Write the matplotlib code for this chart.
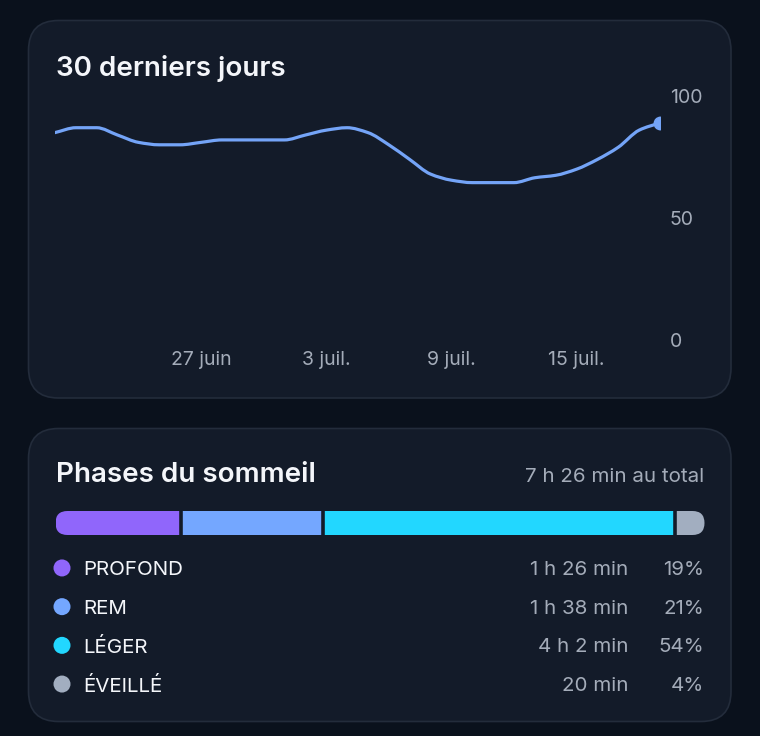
import numpy as np
import matplotlib
matplotlib.use("Agg")
import matplotlib.pyplot as plt
from matplotlib.patches import FancyBboxPatch
from matplotlib.path import Path
from matplotlib.patches import PathPatch
from matplotlib.transforms import blended_transform_factory

plt.rcParams['font.family'] = ['Inter', 'DejaVu Sans']

# --- data ---
days = list(range(30))  # 20 juin .. 19 juil
score = [85, 87, 87, 84, 81, 80, 80, 81, 82, 82, 82, 82, 84, 86, 87, 85,
         80, 74, 68, 65.5, 64.5, 64.5, 64.5, 66.5, 67.5, 70, 74, 79, 86, 89]
tick_days = [7, 13, 19, 25]
tick_labels = ['27 juin', '3 juil.', '9 juil.', '15 juil.']
y_ticks = [0, 50, 100]

phases = ['PROFOND', 'REM', 'LÉGER', 'ÉVEILLÉ']
minutes = [86, 98, 242, 20]
durations = ['1 h 26 min', '1 h 38 min', '4 h 2 min', '20 min']
percents = ['19%', '21%', '54%', '4%']
colors = ['#9066fb', '#74a7ff', '#22d7ff', '#a2aec0']
total_label = '7 h 26 min au total'

BG = '#0a111c'
CARD = '#131b29'
EDGE = '#232c3b'
WHITE = '#f4f6fa'
GREY = '#a4acb9'
LINE = '#74a4f7'

W, H = 760, 736
fig = plt.figure(figsize=(W / 100, H / 100), dpi=100, facecolor=BG)


def frac(x0, y0, x1, y1):
    # pixel box (top-left origin) -> figure fraction rect
    return [x0 / W, 1 - y1 / H, (x1 - x0) / W, (y1 - y0) / H]


# background axes in pixel units
bg = fig.add_axes([0, 0, 1, 1])
bg.set_xlim(0, W)
bg.set_ylim(H, 0)
bg.axis('off')
for (x0, y0, x1, y1) in [(28.5, 20.5, 731, 398), (28.5, 428.5, 731, 721.5)]:
    bg.add_patch(FancyBboxPatch((x0, y0), x1 - x0, y1 - y0,
                                boxstyle='round,pad=0,rounding_size=30',
                                fc=CARD, ec=EDGE, lw=1.2))

fig.text(56 / W, 1 - 76 / H, '30 derniers jours', color=WHITE, fontsize=20,
         fontweight='semibold', ha='left', va='baseline')
fig.text(56 / W, 1 - 482 / H, 'Phases du sommeil', color=WHITE, fontsize=20,
         fontweight='semibold', ha='left', va='baseline')
fig.text(704 / W, 1 - 482 / H, total_label, color=GREY, fontsize=14.8,
         ha='right', va='baseline')

# --- line chart ---
ax = fig.add_axes(frac(55, 96, 660, 340))
ax.set_facecolor('none')
ax.set_xlim(days[0], days[-1])
ax.set_ylim(0, 100)
for s in ax.spines.values():
    s.set_visible(False)

# smooth monotone curve through the daily values
x = np.array(days, dtype=float)
y = np.array(score, dtype=float)
h = np.diff(x)
d = np.diff(y) / h
m = np.zeros_like(y)
m[0], m[-1] = d[0], d[-1]
for i in range(1, len(y) - 1):
    if d[i - 1] * d[i] > 0:
        m[i] = 2 / (1 / d[i - 1] + 1 / d[i])
verts = [(x[0], y[0])]
codes = [Path.MOVETO]
for i in range(len(x) - 1):
    verts += [(x[i] + h[i] / 3, y[i] + m[i] * h[i] / 3),
              (x[i + 1] - h[i] / 3, y[i + 1] - m[i + 1] * h[i] / 3),
              (x[i + 1], y[i + 1])]
    codes += [Path.CURVE4] * 3
ax.add_patch(PathPatch(Path(verts, codes), fc='none', ec=LINE, lw=2.3,
                       capstyle='round', joinstyle='round'))
ax.plot([days[-1]], [score[-1]], 'o', color=LINE, ms=9)

ax.yaxis.tick_right()
ax.set_yticks(y_ticks)
ax.set_yticklabels([str(v) for v in y_ticks])
ax.set_xticks(tick_days)
ax.set_xticklabels(tick_labels)
ax.tick_params(axis='both', length=0, colors=GREY, labelsize=14)
ax.tick_params(axis='y', pad=7)
ax.tick_params(axis='x', pad=8)
for lab in ax.get_yticklabels():
    lab.set_horizontalalignment('left')

# --- stacked phase bar ---
bar = fig.add_axes(frac(55.5, 511, 704.5, 535))
bar.axis('off')
total = sum(minutes)
bar.set_xlim(0, total)
bar.set_ylim(-0.5, 0.5)
clip = FancyBboxPatch((55.5, 511), 649, 24, boxstyle='round,pad=0,rounding_size=12',
                      transform=bg.transData)
lefts = np.cumsum([0] + minutes[:-1])
rects = bar.barh([0] * 4, minutes, left=lefts, height=1.0, color=colors,
                 edgecolor='none')
for r in rects:
    r.set_clip_path(clip)
bar.vlines(lefts[1:], -0.6, 0.6, colors=CARD, lw=2.6)

# --- legend rows ---
rows = fig.add_axes(frac(55, 548.6, 705, 703.4))
rows.axis('off')
rows.set_xlim(0, 1)
rows.set_ylim(len(phases) - 0.5, -0.5)
idx = list(range(len(phases)))
tr = blended_transform_factory(bg.transData, rows.transData)
rows.scatter([62] * 4, idx, s=150, c=colors, transform=tr, linewidths=0,
             clip_on=False)
for i in idx:
    rows.text(83, i, phases[i], color=WHITE, fontsize=14.8, ha='left',
              va='center_baseline', transform=tr)
    rows.text(628, i, durations[i], color=GREY, fontsize=14.8, ha='right',
              va='center_baseline', transform=tr)
    rows.text(704, i, percents[i], color=GREY, fontsize=14.8, ha='right',
              va='center_baseline', transform=tr)

fig.savefig('out.png', dpi=100, facecolor=BG)
